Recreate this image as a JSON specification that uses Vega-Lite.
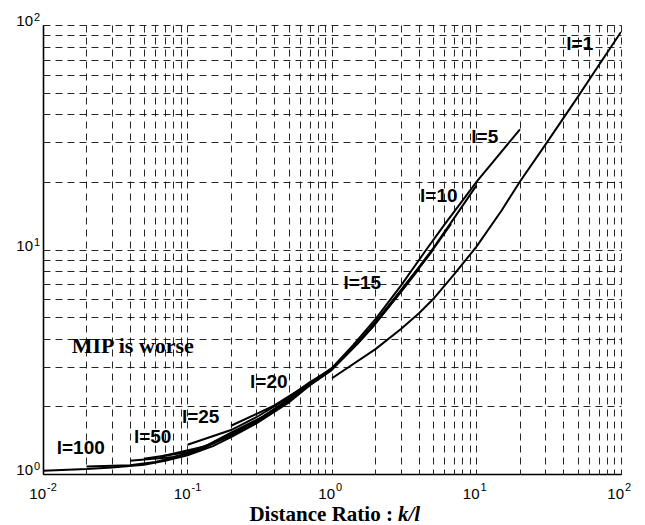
{
  "$schema": "https://vega.github.io/schema/vega-lite/v6.json",
  "width": 578,
  "height": 449,
  "autosize": "none",
  "padding": {"left": 43, "top": 25, "right": 24, "bottom": 51},
  "background": "white",
  "config": {
    "view": {"stroke": null},
    "axis": {"labels": false, "ticks": false, "title": null, "grid": true, "gridColor": "#111", "gridDash": [7, 5], "gridWidth": 1, "gridOpacity": 0.9, "domainColor": "#000", "domainWidth": 1.6}
  },
  "datasets": {
    "curves": [
      {"l": "1", "x": 1, "y": 2.67}, {"l": "1", "x": 2, "y": 3.6}, {"l": "1", "x": 3, "y": 4.42}, {"l": "1", "x": 4, "y": 5.2}, {"l": "1", "x": 5, "y": 6.0}, {"l": "1", "x": 7, "y": 7.75}, {"l": "1", "x": 10, "y": 10.3}, {"l": "1", "x": 15, "y": 15.0}, {"l": "1", "x": 20, "y": 20.1}, {"l": "1", "x": 30, "y": 29.3}, {"l": "1", "x": 50, "y": 47.6}, {"l": "1", "x": 70, "y": 66}, {"l": "1", "x": 100, "y": 93},
      {"l": "5", "x": 0.2, "y": 1.64}, {"l": "5", "x": 0.4, "y": 2.02}, {"l": "5", "x": 0.6, "y": 2.38}, {"l": "5", "x": 0.8, "y": 2.68}, {"l": "5", "x": 1, "y": 2.97}, {"l": "5", "x": 1.4, "y": 3.75}, {"l": "5", "x": 2, "y": 4.9}, {"l": "5", "x": 3, "y": 6.9}, {"l": "5", "x": 4.5, "y": 10.0}, {"l": "5", "x": 6, "y": 12.9}, {"l": "5", "x": 8, "y": 16.5}, {"l": "5", "x": 10, "y": 20.0}, {"l": "5", "x": 14, "y": 26.0}, {"l": "5", "x": 20, "y": 34.3},
      {"l": "10", "x": 0.1, "y": 1.35}, {"l": "10", "x": 0.2, "y": 1.57}, {"l": "10", "x": 0.3, "y": 1.79}, {"l": "10", "x": 0.5, "y": 2.19}, {"l": "10", "x": 0.7, "y": 2.56}, {"l": "10", "x": 1, "y": 2.95}, {"l": "10", "x": 1.5, "y": 3.85}, {"l": "10", "x": 2, "y": 4.75}, {"l": "10", "x": 3, "y": 6.6}, {"l": "10", "x": 4, "y": 8.35}, {"l": "10", "x": 5, "y": 10.1}, {"l": "10", "x": 7, "y": 13.8}, {"l": "10", "x": 10, "y": 19.3},
      {"l": "15", "x": 0.0667, "y": 1.2}, {"l": "15", "x": 0.1333, "y": 1.33}, {"l": "15", "x": 0.2, "y": 1.53}, {"l": "15", "x": 0.3333, "y": 1.8}, {"l": "15", "x": 0.5, "y": 2.15}, {"l": "15", "x": 0.6667, "y": 2.47}, {"l": "15", "x": 1, "y": 2.94}, {"l": "15", "x": 1.5, "y": 3.83}, {"l": "15", "x": 2, "y": 4.72}, {"l": "15", "x": 3, "y": 6.55}, {"l": "15", "x": 4, "y": 8.3}, {"l": "15", "x": 5, "y": 10.0}, {"l": "15", "x": 6.667, "y": 13.0},
      {"l": "20", "x": 0.05, "y": 1.17}, {"l": "20", "x": 0.1, "y": 1.25}, {"l": "20", "x": 0.15, "y": 1.37}, {"l": "20", "x": 0.2, "y": 1.51}, {"l": "20", "x": 0.3, "y": 1.73}, {"l": "20", "x": 0.5, "y": 2.13}, {"l": "20", "x": 0.7, "y": 2.52}, {"l": "20", "x": 1, "y": 2.935}, {"l": "20", "x": 1.5, "y": 3.82}, {"l": "20", "x": 2, "y": 4.7}, {"l": "20", "x": 3, "y": 6.5}, {"l": "20", "x": 4, "y": 8.25}, {"l": "20", "x": 5, "y": 9.95},
      {"l": "25", "x": 0.04, "y": 1.146}, {"l": "25", "x": 0.08, "y": 1.19}, {"l": "25", "x": 0.12, "y": 1.27}, {"l": "25", "x": 0.2, "y": 1.5}, {"l": "25", "x": 0.3, "y": 1.72}, {"l": "25", "x": 0.5, "y": 2.12}, {"l": "25", "x": 0.7, "y": 2.51}, {"l": "25", "x": 1, "y": 2.93}, {"l": "25", "x": 1.5, "y": 3.81}, {"l": "25", "x": 2, "y": 4.68}, {"l": "25", "x": 3, "y": 6.48}, {"l": "25", "x": 4, "y": 8.2},
      {"l": "50", "x": 0.02, "y": 1.08}, {"l": "50", "x": 0.04, "y": 1.095}, {"l": "50", "x": 0.06, "y": 1.13}, {"l": "50", "x": 0.1, "y": 1.23}, {"l": "50", "x": 0.2, "y": 1.48}, {"l": "50", "x": 0.3, "y": 1.7}, {"l": "50", "x": 0.5, "y": 2.1}, {"l": "50", "x": 0.7, "y": 2.49}, {"l": "50", "x": 1, "y": 2.92}, {"l": "50", "x": 1.5, "y": 3.8}, {"l": "50", "x": 2, "y": 4.66},
      {"l": "100", "x": 0.01, "y": 1.034}, {"l": "100", "x": 0.02, "y": 1.052}, {"l": "100", "x": 0.03, "y": 1.07}, {"l": "100", "x": 0.05, "y": 1.1}, {"l": "100", "x": 0.07, "y": 1.145}, {"l": "100", "x": 0.1, "y": 1.21}, {"l": "100", "x": 0.15, "y": 1.33}, {"l": "100", "x": 0.2, "y": 1.46}, {"l": "100", "x": 0.3, "y": 1.68}, {"l": "100", "x": 0.5, "y": 2.08}, {"l": "100", "x": 0.7, "y": 2.48}, {"l": "100", "x": 1, "y": 2.91}
    ],
    "labels": [
      {"x": 51.8, "y": 82.4, "t": "l=1"},
      {"x": 11.4, "y": 31.8, "t": "l=5"},
      {"x": 5.48, "y": 17.3, "t": "l=10"},
      {"x": 1.62, "y": 7.1, "t": "l=15"},
      {"x": 0.365, "y": 2.58, "t": "l=20"},
      {"x": 0.1233, "y": 1.79, "t": "l=25"},
      {"x": 0.0574, "y": 1.458, "t": "l=50"},
      {"x": 0.01825, "y": 1.31, "t": "l=100"}
    ],
    "notes": [{"x": 0.0418, "y": 3.73, "t": "MIP is worse"}],
    "xticks": [{"v": 0.01, "e": "-2"}, {"v": 0.1, "e": "-1"}, {"v": 1, "e": "0"}, {"v": 10, "e": "1"}, {"v": 100, "e": "2"}],
    "yticks": [{"v": 1, "e": "0"}, {"v": 10, "e": "1"}, {"v": 100, "e": "2"}],
    "xtitle": [{"x": 2.64, "a": "Distance Ratio :", "b": "k/l"}]
  },
  "layer": [
    {
      "data": {"name": "curves"},
      "mark": {"type": "line", "color": "#000", "strokeWidth": 2, "clip": true},
      "encoding": {
        "x": {"field": "x", "type": "quantitative", "scale": {"type": "log", "domain": [0.01, 100], "nice": false},
          "axis": {"values": [0.01,0.02,0.03,0.04,0.05,0.06,0.07,0.08,0.09,0.1,0.2,0.3,0.4,0.5,0.6,0.7,0.8,0.9,1,2,3,4,5,6,7,8,9,10,20,30,40,50,60,70,80,90,100]}},
        "y": {"field": "y", "type": "quantitative", "scale": {"type": "log", "domain": [1, 100], "nice": false},
          "axis": {"values": [1,2,3,4,5,6,7,8,9,10,20,30,40,50,60,70,80,90,100]}},
        "detail": {"field": "l"}
      }
    },
    {
      "data": {"name": "labels"},
      "mark": {"type": "text", "font": "Liberation Sans", "fontWeight": "bold", "fontSize": 19, "color": "#000", "align": "center", "baseline": "middle"},
      "encoding": {
        "x": {"field": "x", "type": "quantitative"},
        "y": {"field": "y", "type": "quantitative"},
        "text": {"field": "t"}
      }
    },
    {
      "data": {"name": "notes"},
      "mark": {"type": "text", "font": "Liberation Serif", "fontWeight": "bold", "fontSize": 22, "color": "#000", "align": "center", "baseline": "middle"},
      "encoding": {
        "x": {"field": "x", "type": "quantitative"},
        "y": {"field": "y", "type": "quantitative"},
        "text": {"field": "t"}
      }
    },
    {
      "data": {"name": "xticks"},
      "mark": {"type": "text", "font": "Liberation Sans", "fontSize": 15, "color": "#000", "align": "right", "baseline": "alphabetic", "dx": 3, "dy": 25},
      "encoding": {
        "x": {"field": "v", "type": "quantitative"},
        "y": {"datum": 1, "type": "quantitative"},
        "text": {"value": "10"}
      }
    },
    {
      "data": {"name": "xticks"},
      "mark": {"type": "text", "font": "Liberation Sans", "fontSize": 11, "color": "#000", "align": "left", "baseline": "alphabetic", "dx": 4, "dy": 17},
      "encoding": {
        "x": {"field": "v", "type": "quantitative"},
        "y": {"datum": 1, "type": "quantitative"},
        "text": {"field": "e"}
      }
    },
    {
      "data": {"name": "yticks"},
      "mark": {"type": "text", "font": "Liberation Sans", "fontSize": 15, "color": "#000", "align": "right", "baseline": "alphabetic", "dx": -10, "dy": 1},
      "encoding": {
        "x": {"datum": 0.01, "type": "quantitative"},
        "y": {"field": "v", "type": "quantitative"},
        "text": {"value": "10"}
      }
    },
    {
      "data": {"name": "yticks"},
      "mark": {"type": "text", "font": "Liberation Sans", "fontSize": 11, "color": "#000", "align": "left", "baseline": "alphabetic", "dx": -9, "dy": -4},
      "encoding": {
        "x": {"datum": 0.01, "type": "quantitative"},
        "y": {"field": "v", "type": "quantitative"},
        "text": {"field": "e"}
      }
    },
    {
      "data": {"name": "xtitle"},
      "mark": {"type": "text", "font": "Liberation Serif", "fontWeight": "bold", "fontSize": 21, "color": "#000", "align": "right", "baseline": "alphabetic", "dy": 47},
      "encoding": {
        "x": {"field": "x", "type": "quantitative"},
        "y": {"datum": 1, "type": "quantitative"},
        "text": {"field": "a"}
      }
    },
    {
      "data": {"name": "xtitle"},
      "mark": {"type": "text", "font": "Liberation Serif", "fontWeight": "bold", "fontStyle": "italic", "fontSize": 21, "color": "#000", "align": "left", "baseline": "alphabetic", "dx": 5, "dy": 47},
      "encoding": {
        "x": {"field": "x", "type": "quantitative"},
        "y": {"datum": 1, "type": "quantitative"},
        "text": {"field": "b"}
      }
    }
  ]
}
